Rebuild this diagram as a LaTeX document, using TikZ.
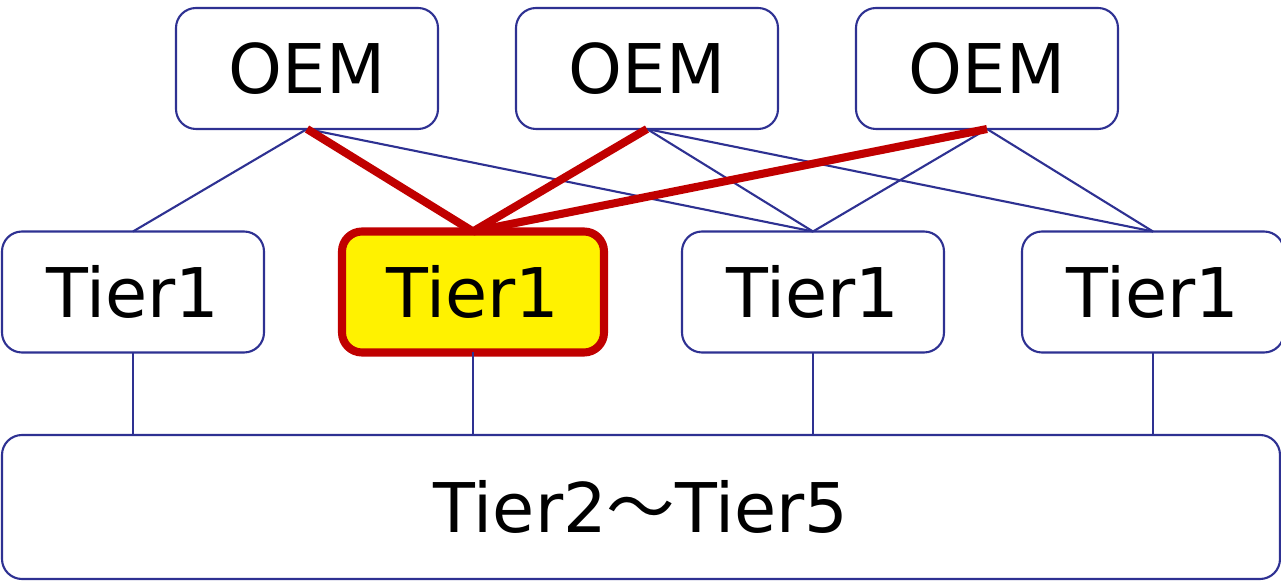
\documentclass[tikz,border=0pt]{standalone}
\usepackage{fontspec}
\setmainfont{DejaVu Sans}
\newfontfamily\cjk{Noto Sans CJK JP}
\usetikzlibrary{positioning}
\definecolor{linkblue}{RGB}{46,49,146}
\definecolor{pickred}{RGB}{192,0,0}
\tikzset{
  tierbox/.style={draw=linkblue, line width=0.6pt, rounded corners=0.2cm, outer sep=0pt, inner sep=0pt,
    minimum width=2.62cm, minimum height=1.21cm, font=\fontsize{19.5}{23}\selectfont},
  pickbox/.style={tierbox, draw=pickred, line width=2.3pt, fill=yellow},
  link/.style={draw=linkblue, line width=0.6pt},
  picklink/.style={draw=pickred, line width=2.3pt}
}
\begin{document}
\begin{tikzpicture}[node distance=0.78cm]
  \useasboundingbox (0,0) rectangle (12.81,-5.81);

  % makers
  \node[tierbox] (oem1) at (3.07,-0.685) {OEM};
  \node[tierbox, right=of oem1] (oem2) {OEM};
  \node[tierbox, right=of oem2] (oem3) {OEM};

  % first-tier suppliers
  \node[tierbox] (tierA) at (1.33,-2.92) {Tier1};
  \node[pickbox, right=of tierA] (tierB) {Tier1};
  \node[tierbox, right=of tierB] (tierC) {Tier1};
  \node[tierbox, right=of tierC] (tierD) {Tier1};

  % everything below
  \node[tierbox, minimum width=12.78cm, minimum height=1.44cm] (lower) at (6.41,-5.07) {Tier2{\cjk ～}Tier5};

  \draw[link] (oem1.south) -- (tierA.north);
  \draw[link] (oem1.south) -- (tierC.north);
  \draw[link] (oem2.south) -- (tierC.north);
  \draw[link] (oem2.south) -- (tierD.north);
  \draw[link] (oem3.south) -- (tierC.north);
  \draw[link] (oem3.south) -- (tierD.north);

  \foreach \t in {tierA,tierB,tierC,tierD}
    \draw[link] (\t.south) -- (\t.south |- lower.north);

  \foreach \o in {oem1,oem2,oem3}
    \draw[picklink] (\o.south) -- (tierB.north);
\end{tikzpicture}
\end{document}
